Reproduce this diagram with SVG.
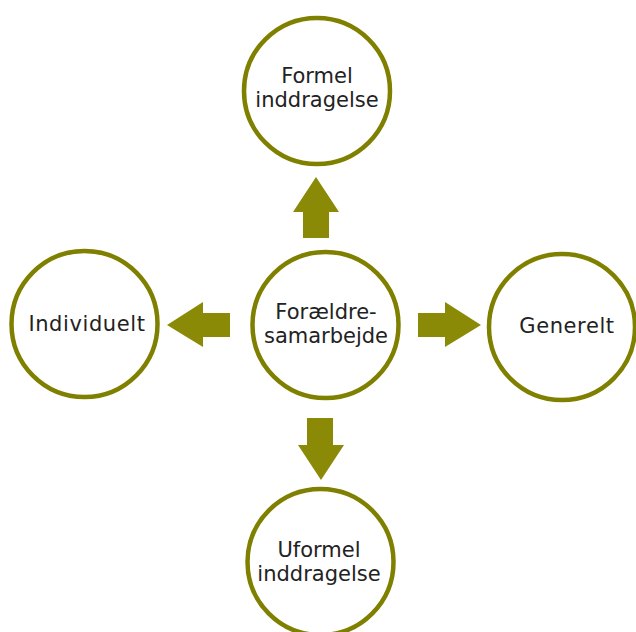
<svg xmlns="http://www.w3.org/2000/svg" width="636" height="632" viewBox="0 0 636 632">
<style>
.node circle{fill:#fff;stroke:#7f7f00;stroke-width:4.5}
.node text{font-family:"DejaVu Sans",Verdana,sans-serif;font-size:21px;fill:#222;text-anchor:middle}
.arrow{fill:#8a8a06}
</style>
<rect width="636" height="632" fill="#fff"/>
<g id="connectors">
<polygon class="arrow" points="316,177 339,212 329,212 329,238 303,238 303,212 293,212"/>
<polygon class="arrow" points="167,325 203,302 203,313 230,313 230,337 203,337 203,347"/>
<polygon class="arrow" points="481,325 445,302 445,313 418,313 418,337 445,337 445,347"/>
<polygon class="arrow" points="321,480 344,445 333,445 333,418 307,418 307,445 298,445"/>
</g>
<g id="node-top" class="node">
<circle cx="317" cy="91" r="73"/>
<text x="317" y="83">Formel</text>
<text x="317" y="107">inddragelse</text>
</g>
<g id="node-center" class="node">
<circle cx="325.5" cy="325" r="73"/>
<text x="326" y="319">Forældre-</text>
<text x="326" y="343">samarbejde</text>
</g>
<g id="node-left" class="node">
<circle cx="84.5" cy="324" r="73"/>
<text x="87" y="331" letter-spacing="0.6">Individuelt</text>
</g>
<g id="node-right" class="node">
<circle cx="562" cy="327" r="73"/>
<text x="567" y="333" letter-spacing="0.6">Generelt</text>
</g>
<g id="node-bottom" class="node">
<circle cx="320.5" cy="562" r="73"/>
<text x="319" y="557">Uformel</text>
<text x="319" y="581">inddragelse</text>
</g>
</svg>
